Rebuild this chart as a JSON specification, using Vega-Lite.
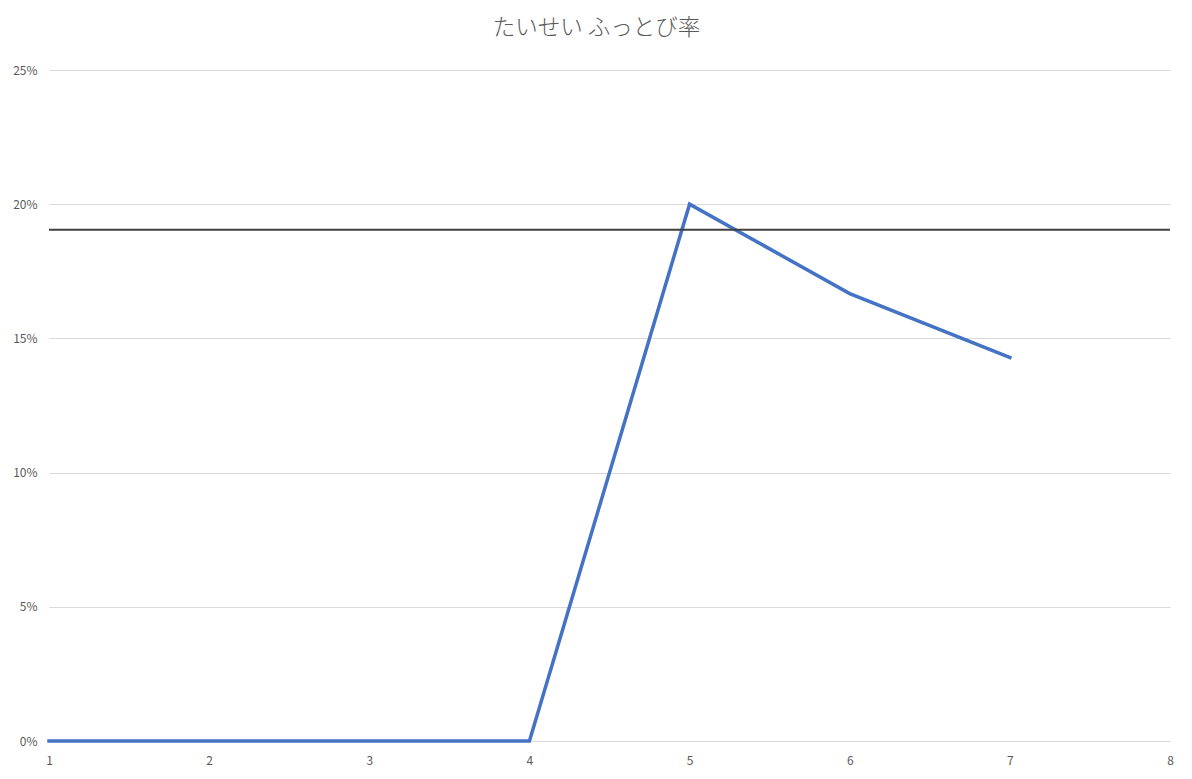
{
  "$schema": "https://vega.github.io/schema/vega-lite/v6.json",
  "width": 1121,
  "height": 671,
  "autosize": {"type": "none"},
  "padding": {"left": 49, "top": 70, "right": 22, "bottom": 38},
  "background": "white",
  "config": {
    "view": {"stroke": null},
    "font": "Noto Sans CJK JP",
    "axis": {"labelFont": "Noto Sans CJK JP", "labelColor": "#595959", "labelFontSize": 12}
  },
  "title": {
    "text": "たいせい ふっとび率",
    "fontSize": 22.5,
    "fontWeight": 300,
    "color": "#595959",
    "anchor": "middle",
    "dx": -13,
    "offset": 25,
    "font": "Noto Sans CJK JP"
  },
  "datasets": {
    "rates": [
      {"round": 1, "rate": 0},
      {"round": 2, "rate": 0},
      {"round": 3, "rate": 0},
      {"round": 4, "rate": 0},
      {"round": 5, "rate": 0.2},
      {"round": 6, "rate": 0.1667},
      {"round": 7, "rate": 0.1429}
    ],
    "avg": [{"rate": 0.1905}]
  },
  "layer": [
    {
      "data": {"name": "rates"},
      "mark": {"type": "line", "color": "#4472C4", "strokeWidth": 3.5, "strokeCap": "square", "clip": false},
      "encoding": {
        "x": {
          "field": "round", "type": "quantitative",
          "scale": {"domain": [1, 8], "nice": false, "zero": false},
          "axis": {"title": null, "grid": false, "domain": false, "ticks": false, "values": [1,2,3,4,5,6,7,8], "labelPadding": 14, "format": "d", "labelFlush": false}
        },
        "y": {
          "field": "rate", "type": "quantitative",
          "scale": {"domain": [0, 0.25], "nice": false},
          "axis": {"title": null, "values": [0, 0.05, 0.1, 0.15, 0.2, 0.25], "format": ".0%", "grid": true, "gridColor": "#d9d9d9", "gridWidth": 1, "domain": false, "ticks": false, "labelPadding": 12}
        }
      }
    },
    {
      "data": {"name": "avg"},
      "mark": {"type": "rule", "color": "#404040", "strokeWidth": 2},
      "encoding": {
        "y": {"field": "rate", "type": "quantitative"}
      }
    }
  ]
}
